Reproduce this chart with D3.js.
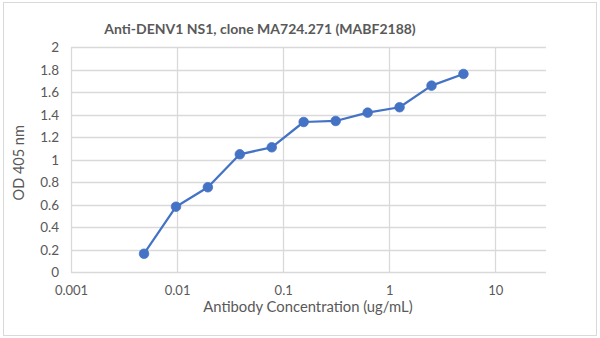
<!DOCTYPE html>
<html>
<head>
<meta charset="utf-8">
<script src="https://cdn.jsdelivr.net/npm/d3@7"></script>
<style>
  html, body { margin: 0; padding: 0; background: #fff; }
  svg { display: block; font-family: Lato, "Open Sans", sans-serif; }
</style>
</head>
<body>
<svg id="chart" width="600" height="338"></svg>
<script>
// Serial two-fold dilution series and measured OD at 405 nm
const concentrations = [0.00488, 0.00977, 0.0195, 0.039, 0.078, 0.156, 0.3125, 0.625, 1.25, 2.5, 5];
const odValues = [0.165, 0.583, 0.756, 1.049, 1.111, 1.336, 1.345, 1.419, 1.467, 1.659, 1.763];
const xTicks = [0.001, 0.01, 0.1, 1, 10];
const xTickLabels = ["0.001", "0.01", "0.1", "1", "10"];
const yTicks = [0, 0.2, 0.4, 0.6, 0.8, 1, 1.2, 1.4, 1.6, 1.8, 2];

const chartTitle = "Anti-DENV1 NS1, clone MA724.271 (MABF2188)";
const xTitle = "Antibody Concentration (ug/mL)";
const yTitle = "OD 405 nm";

const svg = d3.select("#chart");
const plot = { left: 71, right: 546, top: 47.3, bottom: 272.3 };

// chart frame
svg.append("rect")
  .attr("x", 3.5).attr("y", 2.5)
  .attr("width", 593).attr("height", 333)
  .attr("fill", "#fff").attr("stroke", "#d9d9d9").attr("stroke-width", 1);

const x = d3.scaleLog().domain([0.001, 30]).range([plot.left, plot.right]);
const y = d3.scaleLinear().domain([0, 2]).range([plot.bottom, plot.top]);

const textColor = "#595959";
const gridColor = "#d9d9d9";

// horizontal gridlines
svg.append("g").selectAll("line").data(yTicks).join("line")
  .attr("x1", plot.left).attr("x2", plot.right)
  .attr("y1", d => Math.round(y(d)) + 0.5).attr("y2", d => Math.round(y(d)) + 0.5)
  .attr("stroke", gridColor).attr("stroke-width", 1.3);

// vertical gridlines at each decade
svg.append("g").selectAll("line").data(xTicks).join("line")
  .attr("x1", d => Math.round(x(d)) + 0.5).attr("x2", d => Math.round(x(d)) + 0.5)
  .attr("y1", plot.top).attr("y2", plot.bottom)
  .attr("stroke", gridColor).attr("stroke-width", 1.3);

// y tick labels
const yAxis = d3.axisLeft(y).tickValues(yTicks).tickSize(0).tickPadding(0)
  .tickFormat(d => d3.format("")(+d.toFixed(1)));
const gy = svg.append("g").attr("transform", `translate(${plot.left - 12},0)`).call(yAxis);
gy.select(".domain").remove();
gy.selectAll("text").attr("fill", textColor).attr("font-size", 13.5)
  .attr("font-family", "Lato, sans-serif");

// x tick labels
const xAxis = d3.axisBottom(x).tickValues(xTicks).tickSize(0).tickPadding(0)
  .tickFormat((d, i) => xTickLabels[i]);
const gx = svg.append("g").attr("transform", `translate(0,${plot.bottom + 13})`).call(xAxis);
gx.select(".domain").remove();
gx.selectAll("text").attr("fill", textColor).attr("font-size", 13)
  .attr("font-family", "Lato, sans-serif");

// title
svg.append("text")
  .attr("x", 260).attr("y", 34)
  .attr("text-anchor", "middle")
  .attr("fill", textColor).attr("font-size", 14).attr("font-weight", 700)
  .text(chartTitle);

// axis titles
svg.append("text")
  .attr("x", 308).attr("y", 311.5)
  .attr("text-anchor", "middle")
  .attr("fill", textColor).attr("font-size", 14.8)
  .text(xTitle);

svg.append("text")
  .attr("transform", `translate(24,${(plot.top + plot.bottom) / 2 + 3}) rotate(-90)`)
  .attr("text-anchor", "middle")
  .attr("fill", textColor).attr("font-size", 14.5)
  .text(yTitle);

// data series
const data = concentrations.map((c, i) => ({ c, v: odValues[i] }));
const blue = "#4472c4";

svg.append("path")
  .datum(data)
  .attr("fill", "none").attr("stroke", blue).attr("stroke-width", 2.25)
  .attr("stroke-linejoin", "round")
  .attr("d", d3.line().x(d => x(d.c)).y(d => y(d.v)));

svg.append("g").selectAll("circle").data(data).join("circle")
  .attr("cx", d => x(d.c)).attr("cy", d => y(d.v)).attr("r", 4.8)
  .attr("fill", blue).attr("stroke", blue).attr("stroke-width", 0.75);
</script>
</body>
</html>
